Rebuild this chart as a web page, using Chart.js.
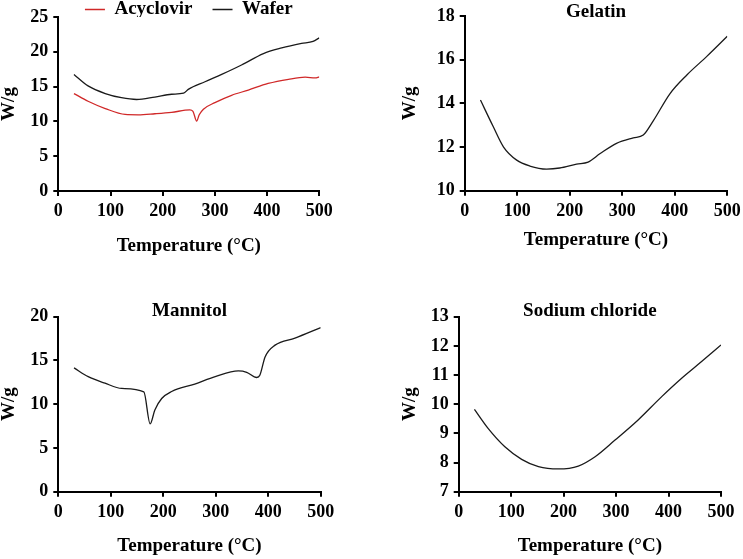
<!DOCTYPE html>
<html>
<head>
<meta charset="utf-8">
<script src="https://cdn.jsdelivr.net/npm/chart.js@4/dist/chart.umd.min.js"></script>
<style>
  html, body { margin: 0; padding: 0; background: #fff; }
  #wrap { position: relative; width: 743px; height: 559px; overflow: hidden; }
  canvas { position: absolute; left: 0; }
</style>
</head>
<body>
<div id="wrap">
  <canvas id="wafer" width="743" height="579" style="top:-20px"></canvas>
  <canvas id="gelatin" width="743" height="559" style="top:0"></canvas>
  <canvas id="mannitol" width="743" height="559" style="top:0"></canvas>
  <canvas id="nacl" width="743" height="559" style="top:0"></canvas>
</div>
<script>
// x axis, shared by all four panels
const tempTicks = [0, 100, 200, 300, 400, 500];

// top left: acyclovir vs wafer
const acyclovirT = [30, 57, 90, 128, 153, 185, 217, 252, 258, 265, 270, 278, 300, 332, 364, 402, 441, 473, 492, 500];
const acyclovirW = [14.0, 12.9, 11.85, 11.0, 10.95, 11.1, 11.3, 11.65, 11.45, 10.05, 10.95, 11.75, 12.7, 13.75, 14.5, 15.45, 16.05, 16.35, 16.25, 16.4];
const waferT = [30, 57, 90, 121, 150, 185, 217, 240, 249, 281, 313, 351, 393, 428, 466, 488, 500];
const waferW = [16.75, 15.1, 14.0, 13.4, 13.15, 13.5, 13.9, 14.05, 14.6, 15.7, 16.75, 18.1, 19.75, 20.55, 21.2, 21.5, 22.0];
const waferTicks = [0, 5, 10, 15, 20, 25];

// top right: gelatin
const gelatinT = [30, 54, 74, 99, 124, 156, 181, 213, 235, 258, 289, 321, 340, 359, 391, 423, 461, 500];
const gelatinW = [14.15, 12.95, 12.0, 11.4, 11.13, 10.99, 11.04, 11.22, 11.31, 11.7, 12.17, 12.42, 12.55, 13.2, 14.45, 15.3, 16.15, 17.07];
const gelatinTicks = [10, 12, 14, 16, 18];

// bottom left: mannitol
const mannitolT = [30, 57, 89, 121, 163, 175, 184, 197, 216, 260, 299, 343, 359, 378, 384, 394, 413, 451, 500];
const mannitolW = [14.15, 13.15, 12.4, 11.8, 11.4, 7.75, 9.35, 10.65, 11.45, 12.3, 13.15, 13.8, 13.65, 13.05, 13.3, 15.4, 16.75, 17.55, 18.75];
const mannitolTicks = [0, 5, 10, 15, 20];

// bottom right: sodium chloride
const naclT = [30, 56, 88, 120, 152, 190, 228, 260, 298, 342, 387, 425, 463, 500];
const naclW = [9.82, 9.17, 8.54, 8.11, 7.86, 7.78, 7.88, 8.2, 8.77, 9.46, 10.26, 10.89, 11.46, 12.03];
const naclTicks = [7, 8, 9, 10, 11, 12, 13];

Chart.defaults.font.family = '"Liberation Serif", "Times New Roman", serif';
Chart.defaults.font.weight = 'bold';
Chart.defaults.color = '#000';

const toPoints = (xs, ys) => xs.map((x, i) => ({ x: x, y: ys[i] }));

const line = (label, xs, ys, color) => ({
  label: label,
  data: toPoints(xs, ys),
  borderColor: color,
  backgroundColor: color,
  borderWidth: 1.3,
  pointRadius: 0,
  cubicInterpolationMode: 'monotone',
  fill: false,
});

const axisStyle = {
  border: { display: true, color: '#000', width: 2 },
  grid: { display: true, drawOnChartArea: false, drawTicks: true, tickLength: 5, lineWidth: 2, color: '#000' },
};

function makePanel(id, datasets, yTicks, g) {
  const ctx = document.getElementById(id).getContext('2d');
  return new Chart(ctx, {
    type: 'line',
    data: { datasets: datasets },
    options: {
      responsive: false,
      animation: false,
      events: [],
      layout: { padding: g.pad },
      plugins: {
        tooltip: { enabled: false },
        legend: g.legend
          ? {
              display: true,
              position: 'top',
              fullSize: false,
              maxHeight: g.legendH,
              labels: {
                usePointStyle: true,
                pointStyle: 'line',
                pointStyleWidth: 20,
                padding: 20,
                color: '#000',
                font: { size: 19, weight: 'bold' },
              },
            }
          : { display: false },
        title: g.title
          ? {
              display: true,
              text: g.title,
              position: 'top',
              fullSize: false,
              color: '#000',
              font: { size: 19, weight: 'bold', lineHeight: 8 / 19 },
              padding: { top: 0, bottom: g.titleGap },
            }
          : { display: false },
      },
      scales: {
        x: {
          type: 'linear',
          min: 0,
          max: 500,
          ...axisStyle,
          afterBuildTicks: (s) => { s.ticks = tempTicks.map((v) => ({ value: v })); },
          afterFit: (s) => { s.height = g.xH; s.paddingLeft = 0; s.paddingRight = 0; },
          ticks: { color: '#000', padding: 5, maxRotation: 0, autoSkip: false, font: { size: 18, weight: 'bold', lineHeight: 1.2 } },
          title: { display: true, text: 'Temperature (°C)', color: '#000', padding: 0, font: { size: 19, weight: 'bold', lineHeight: 1 } },
        },
        y: {
          type: 'linear',
          min: yTicks[0],
          max: yTicks[yTicks.length - 1],
          ...axisStyle,
          afterBuildTicks: (s) => { s.ticks = yTicks.map((v) => ({ value: v })); },
          afterFit: (s) => { s.width = g.yW; s.paddingTop = 0; s.paddingBottom = 0; },
          ticks: { color: '#000', padding: 5, autoSkip: false, font: { size: 18, weight: 'bold', lineHeight: 1.2 } },
          title: { display: true, text: 'W/g', color: '#000', padding: 0, font: { size: 19, weight: 'bold', lineHeight: 1 } },
        },
      },
    },
  });
}

makePanel('wafer', [
  line('Acyclovir', acyclovirT, acyclovirW, '#d02828'),
  line('Wafer', waferT, waferW, '#1a1a1a'),
], waferTicks, {
  pad: { left: 0, right: 423.7, top: 0, bottom: 303.5 },
  yW: 58.3, xH: 64.5, legend: true, legendH: 37,
});

makePanel('gelatin', [line('Gelatin', gelatinT, gelatinW, '#1a1a1a')], gelatinTicks, {
  pad: { left: 400.5, right: 15.7, top: 8, bottom: 309.8 },
  yW: 64.2, xH: 58.5, title: 'Gelatin', titleGap: 0,
});

makePanel('mannitol', [line('Mannitol', mannitolT, mannitolW, '#1a1a1a')], mannitolTicks, {
  pad: { left: 0, right: 422.3, top: 307, bottom: 3.2 },
  yW: 58.3, xH: 64.1, title: 'Mannitol', titleGap: 1.7,
});

makePanel('nacl', [line('Sodium chloride', naclT, naclW, '#1a1a1a')], naclTicks, {
  pad: { left: 400.5, right: 22, top: 307, bottom: 3.2 },
  yW: 58.2, xH: 64.1, title: 'Sodium chloride', titleGap: 1.7,
});
</script>
</body>
</html>
